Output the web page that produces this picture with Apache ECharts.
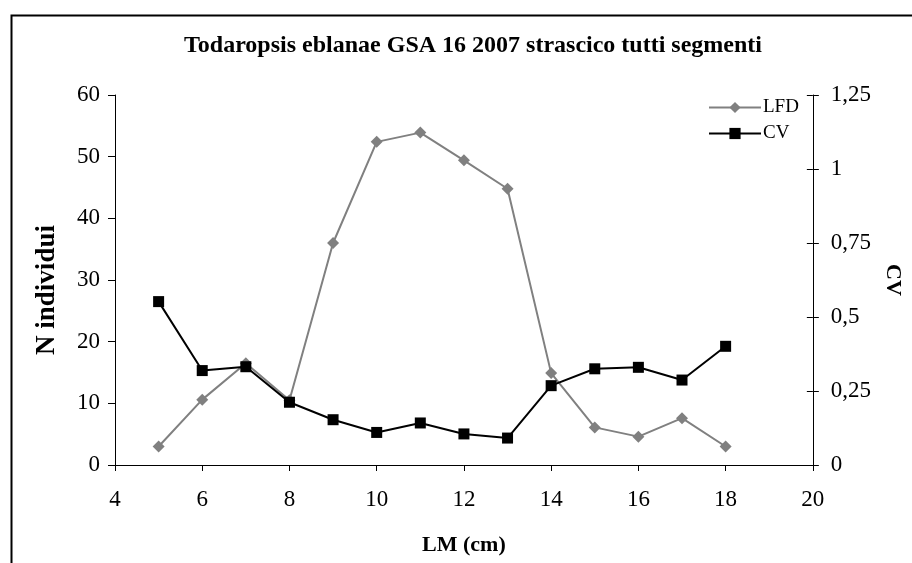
<!DOCTYPE html>
<html>
<head>
<meta charset="utf-8">
<script src="https://cdn.jsdelivr.net/npm/echarts@6/dist/echarts.min.js"></script>
<style>
html,body{margin:0;padding:0;background:#fff;}
#c{width:912px;height:563px;}
</style>
</head>
<body>
<div id="c"></div>
<script>
const lengths = [5, 6, 7, 8, 9, 10, 11, 12, 13, 14, 15, 16, 17, 18];
const lfd = [3.0, 10.6, 16.5, 10.5, 36.0, 52.4, 53.9, 49.4, 44.8, 14.9, 6.1, 4.6, 7.6, 3.0];
const cv = [0.552, 0.319, 0.332, 0.212, 0.153, 0.110, 0.142, 0.105, 0.091, 0.268, 0.325, 0.330, 0.287, 0.401];
const titleText = 'Todaropsis eblanae GSA 16 2007 strascico tutti segmenti';

const font = 'Liberation Serif';
const chart = echarts.init(document.getElementById('c'), null, {renderer: 'canvas'});
const zip = (xs, ys) => xs.map((x, i) => [x, ys[i]]);

chart.setOption({
  animation: false,
  backgroundColor: '#fff',
  title: {
    text: titleText,
    left: 473, top: 34, textAlign: 'center', padding: 0,
    textStyle: {fontFamily: font, fontWeight: 'bold', fontSize: 24, color: '#000'}
  },
  graphic: [{
    type: 'rect', left: 9, top: 13, silent: true,
    shape: {width: 920, height: 600},
    style: {fill: 'none', stroke: '#000', lineWidth: 2}
  }],
  legend: {
    orient: 'vertical', left: 708, top: 98, padding: 0,
    itemWidth: 52, itemHeight: 14, itemGap: 7,
    textStyle: {fontFamily: font, fontSize: 19, color: '#000', padding: [0, 0, 0, -3]},
    data: ['LFD', 'CV']
  },
  grid: {left: 115, right: 82, top: 95, bottom: 98, containLabel: false},
  xAxis: {
    type: 'value', min: 4, max: 20, interval: 2,
    name: 'LM (cm)', nameLocation: 'middle', nameGap: 69,
    nameTextStyle: {fontFamily: font, fontWeight: 'bold', fontSize: 22, color: '#000'},
    axisLine: {lineStyle: {color: '#000', width: 1}},
    axisTick: {length: 6, lineStyle: {color: '#000'}},
    axisLabel: {fontFamily: font, fontSize: 23, color: '#000', margin: 23},
    splitLine: {show: false}
  },
  yAxis: [{
    type: 'value', min: 0, max: 60, interval: 10, position: 'left',
    name: 'N individui', nameLocation: 'middle', nameGap: 54, nameRotate: 90,
    nameTextStyle: {fontFamily: font, fontWeight: 'bold', fontSize: 27, color: '#000', padding: [0, 20, 0, 0]},
    axisLine: {show: true, lineStyle: {color: '#000', width: 1}},
    axisTick: {show: true, length: 7, lineStyle: {color: '#000'}},
    axisLabel: {fontFamily: font, fontSize: 23, color: '#000', margin: 15},
    splitLine: {show: false}
  }, {
    type: 'value', min: 0, max: 1.25, interval: 0.25, position: 'right',
    name: 'CV', nameLocation: 'middle', nameGap: 50, nameRotate: -90,
    nameTextStyle: {fontFamily: font, fontWeight: 'bold', fontSize: 22, color: '#000'},
    axisLine: {show: true, lineStyle: {color: '#000', width: 1}},
    axisTick: {show: true, length: 6, lineStyle: {color: '#000'}},
    axisLabel: {fontFamily: font, fontSize: 23, color: '#000', margin: 18,
      formatter: v => String(v).replace('.', ',')},
    splitLine: {show: false}
  }, {
    type: 'value', min: 0, max: 1.25, interval: 0.25, position: 'right',
    axisLine: {show: false},
    axisTick: {show: true, inside: true, length: 6, lineStyle: {color: '#000'}},
    axisLabel: {show: false},
    splitLine: {show: false}
  }],
  series: [{
    name: 'LFD', type: 'line', yAxisIndex: 0,
    data: zip(lengths, lfd),
    symbol: 'diamond', symbolSize: 12,
    lineStyle: {color: '#808080', width: 2},
    itemStyle: {color: '#808080'}
  }, {
    name: 'CV', type: 'line', yAxisIndex: 1,
    data: zip(lengths, cv),
    symbol: 'rect', symbolSize: 11,
    lineStyle: {color: '#000', width: 2},
    itemStyle: {color: '#000'}
  }]
});
</script>
</body>
</html>
